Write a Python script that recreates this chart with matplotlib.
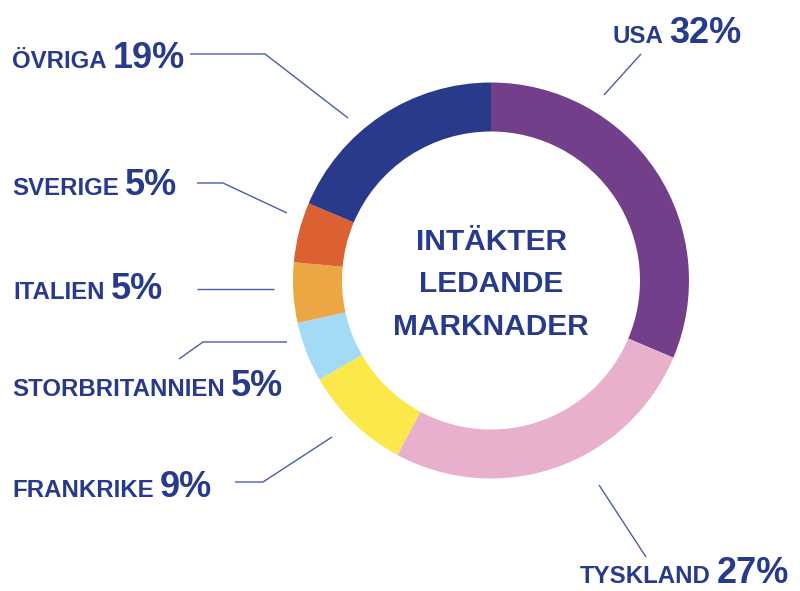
import matplotlib
matplotlib.use("Agg")
import matplotlib.pyplot as plt

# ---- data ----
markets = ["USA", "TYSKLAND", "FRANKRIKE", "STORBRITANNIEN", "ITALIEN", "SVERIGE", "ÖVRIGA"]
shares = [32, 27, 9, 5, 5, 5, 19]
colors = ["#743F8A", "#E9B0CD", "#FDE84C", "#A3DAF6", "#EBA743", "#DB6132", "#283A89"]
center_title = ["INTÄKTER", "LEDANDE", "MARKNADER"]

TEXT = "#283A8C"
LINE = "#4A5DB0"
W, H = 800, 591

fig = plt.figure(figsize=(W / 100, H / 100), dpi=100)
ax = fig.add_axes([0, 0, 1, 1])

cx, cy, R = 491, H - 280.5, 198
ax.pie(shares, colors=colors, startangle=90, counterclock=False,
       center=(cx, cy), radius=R,
       wedgeprops=dict(width=49, linewidth=0))
ax.set_xlim(0, W)
ax.set_ylim(0, H)
ax.set_aspect("equal")
ax.axis("off")

name_font = dict(family=["Liberation Sans", "DejaVu Sans"], weight="bold", size=17.3, color=TEXT)
pct_font = dict(family=["Liberation Sans", "DejaVu Sans"], weight="bold", size=26, color=TEXT)

# label anchor (left x, baseline y in pixel coords from top)
label_pos = {
    "ÖVRIGA": (12, 68),
    "SVERIGE": (12, 195),
    "ITALIEN": (13, 299),
    "STORBRITANNIEN": (12, 396),
    "FRANKRIKE": (12, 497),
    "USA": (612, 43),
    "TYSKLAND": (580, 583),
}
leaders = {
    "ÖVRIGA": [(190, 54), (265, 54), (348, 118)],
    "SVERIGE": [(197, 183), (223, 183), (287, 213)],
    "ITALIEN": [(197, 289), (274, 289)],
    "STORBRITANNIEN": [(287, 342), (203, 342), (179, 359)],
    "FRANKRIKE": [(235, 482), (263, 482), (332, 437)],
    "USA": [(641, 54), (604, 95)],
    "TYSKLAND": [(599, 485), (646, 557)],
}

fig.canvas.draw()
renderer = fig.canvas.get_renderer()
for name, val in zip(markets, shares):
    x, y = label_pos[name]
    t = ax.text(x, H - y, name, ha="left", va="baseline", **name_font)
    bb = t.get_window_extent(renderer=renderer)
    ax.text(bb.x1 + 6, H - y, f"{val}%", ha="left", va="baseline", **pct_font)
    pts = leaders[name]
    ax.plot([p[0] for p in pts], [H - p[1] for p in pts], color=LINE, lw=1.0,
            solid_capstyle="butt")

for line, yb in zip(center_title, [250, 292, 335]):
    ax.text(491, H - yb, line, ha="center", va="baseline",
            family=["Liberation Sans", "DejaVu Sans"], weight="bold", size=21.5, color=TEXT)

fig.savefig("out.png", dpi=100)
